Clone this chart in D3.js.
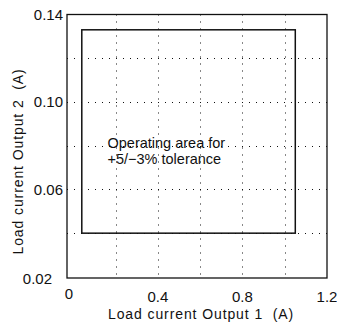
<!DOCTYPE html>
<html><head><meta charset="utf-8">
<script src="https://cdn.jsdelivr.net/npm/d3@7"></script>
<style>
html,body{margin:0;padding:0;background:#fff;}
text{font-family:"Liberation Sans",Arial,Helvetica,sans-serif;fill:#111;}
</style></head>
<body>
<svg id="chart" width="337" height="330"></svg>
<script>
// Data
const xTickValues = [0, 0.4, 0.8, 1.2];
const xTickLabels = ["0", "0.4", "0.8", "1.2"];
const yTickValues = [0.02, 0.06, 0.10, 0.14];
const yTickLabels = ["0.02", "0.06", "0.10", "0.14"];
const xGridValues = [0.2, 0.4, 0.6, 0.8, 1.0];
const yGridValues = [0.04, 0.06, 0.08, 0.10, 0.12];
const areaX = [0.04, 1.05];   // Output 1 load current range (A)
const areaY = [0.04, 0.133];  // Output 2 load current range (A)
const annotationLines = ["Operating area for", "+5/\u22123% tolerance"];
const xTitle = "Load current Output 1\u00a0 (A)";
const yTitle = "Load current Output 2\u00a0 (A)";

const svg = d3.select("#chart");
const x = d3.scaleLinear().domain([-0.03, 1.2]).range([67, 327]);
const y = d3.scaleLinear().domain([0.0195, 0.14]).range([278, 14.5]);
const [x0, x1] = x.range();
const [y0, y1] = y.range();

// grid
const grid = svg.append("g").attr("stroke", "#111").attr("stroke-width", 1)
  .attr("stroke-dasharray", "1,6");
grid.selectAll("line.v").data(xGridValues).join("line").attr("class", "v")
  .attr("x1", d => Math.round(x(d)) + 0.5).attr("x2", d => Math.round(x(d)) + 0.5)
  .attr("y1", y1).attr("y2", y0);
grid.selectAll("line.h").data(yGridValues).join("line").attr("class", "h")
  .attr("y1", d => Math.round(y(d)) + 0.5).attr("y2", d => Math.round(y(d)) + 0.5)
  .attr("x1", x0).attr("x2", x1);

// frame
svg.append("rect").attr("x", x0).attr("y", y1)
  .attr("width", x1 - x0).attr("height", y0 - y1)
  .attr("fill", "none").attr("stroke", "#111").attr("stroke-width", 1.3);

// operating area
svg.append("rect")
  .attr("x", x(areaX[0])).attr("y", y(areaY[1]))
  .attr("width", x(areaX[1]) - x(areaX[0]))
  .attr("height", y(areaY[0]) - y(areaY[1]))
  .attr("fill", "none").attr("stroke", "#111").attr("stroke-width", 1.5);

// x tick labels
svg.append("g").selectAll("text").data(xTickValues).join("text")
  .attr("x", (d, i) => x(d) + (i === 0 ? -4.3 : 0))
  .attr("y", (d, i) => i === 0 ? 299 : 302)
  .attr("text-anchor", "middle").attr("font-size", 15)
  .text((d, i) => xTickLabels[i]);

// y tick labels
svg.append("g").selectAll("text").data(yTickValues).join("text")
  .attr("x", (d, i) => i === 0 ? 52 : 63)
  .attr("y", (d, i) => y(d) + (i === 0 ? 1.4 : 0))
  .attr("dy", "0.36em")
  .attr("text-anchor", "end").attr("font-size", 15)
  .text((d, i) => yTickLabels[i]);

// axis titles
svg.append("text").attr("x", 201).attr("y", 319).attr("text-anchor", "middle")
  .attr("font-size", 14).attr("letter-spacing", 0.9)
  .text(xTitle);
svg.append("text").attr("transform", "translate(23,161.5) rotate(-90)")
  .attr("text-anchor", "middle")
  .attr("font-size", 14).attr("letter-spacing", 0.9)
  .text(yTitle);

// annotation
svg.append("g").selectAll("text").data(annotationLines).join("text")
  .attr("x", 107.5).attr("y", (d, i) => 148 + i * 16)
  .attr("font-size", 14.5).text(d => d);
</script>
</body></html>
